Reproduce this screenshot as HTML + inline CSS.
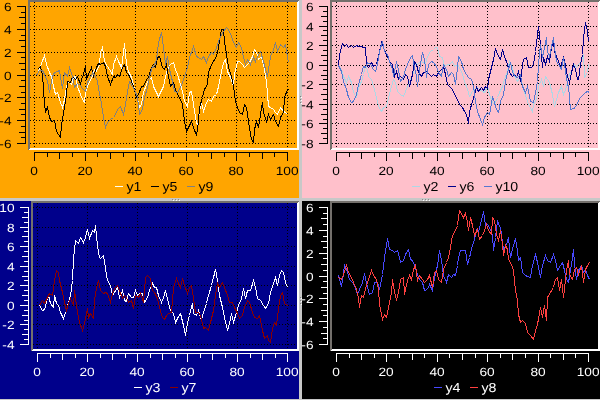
<!DOCTYPE html>
<html><head><meta charset="utf-8"><title>plots</title>
<style>
html,body{margin:0;padding:0;background:#c8c8c8;overflow:hidden}
svg{display:block;will-change:transform;transform:translateZ(0);font-family:"Liberation Sans", sans-serif;font-size:12px}
</style></head><body>
<svg width="600" height="400" viewBox="0 0 600 400" shape-rendering="crispEdges" text-rendering="geometricPrecision">
<rect x="0" y="0" width="600" height="400" fill="#c8c8c8"/>
<rect x="0" y="0" width="299" height="198" fill="#ffa500"/>
<rect x="28" y="0" width="271" height="2" fill="#74706c"/>
<rect x="28" y="0" width="2" height="150" fill="#74706c"/>
<path d="M28,150 L30,148 L297,148 L297,2 L299,0 L299,150 Z" fill="#ffffff"/>
<path d="M34.5,2 V148 M85.5,2 V148 M135.5,2 V148 M186.5,2 V148 M236.5,2 V148 M287.5,2 V148 M30,6.5 H297 M30,29.5 H297 M30,52.5 H297 M30,75.5 H297 M30,97.5 H297 M30,120.5 H297 M30,143.5 H297" stroke="#000" stroke-width="1" stroke-dasharray="1 2" fill="none"/>
<polyline points="38.5,71.5 44.5,55.5 46.5,64.5 49.5,72.5 51.5,76.5 53.5,86.5 55.5,94.5 57.5,92.5 60.5,102.5 62.5,107.5 64.5,99.5 66.5,86.5 68.5,81.5 71.5,84.5 73.5,77.5 75.5,76.5 77.5,86.5 80.5,94.5 81.5,97.5 84.5,102.5 85.5,92.5 87.5,86.5 90.5,79.5 92.5,76.5 94.5,69.5 96.5,71.5 99.5,64.5 100.5,52.5 102.5,47.5 104.5,61.5 107.5,66.5 109.5,69.5 112.5,74.5 113.5,64.5 116.5,56.5 118.5,61.5 121.5,67.5 123.5,52.5 124.5,43.5 126.5,64.5 128.5,71.5 131.5,77.5 133.5,84.5 135.5,94.5 137.5,99.5 139.5,107.5 141.5,104.5 143.5,92.5 146.5,84.5 148.5,79.5 151.5,77.5 153.5,86.5 156.5,92.5 158.5,96.5 160.5,92.5 163.5,86.5 165.5,76.5 167.5,69.5 170.5,64.5 173.5,62.5 175.5,69.5 177.5,74.5 180.5,84.5 182.5,91.5 184.5,101.5 187.5,106.5 189.5,92.5 191.5,91.5 193.5,104.5 195.5,117.5 197.5,126.5 199.5,111.5 201.5,102.5 203.5,111.5 206.5,102.5 208.5,99.5 211.5,101.5 213.5,96.5 216.5,94.5 218.5,86.5 221.5,71.5 223.5,62.5 225.5,59.5 227.5,71.5 230.5,77.5 233.5,86.5 234.5,74.5 237.5,61.5 239.5,61.5 242.5,64.5 244.5,67.5 247.5,64.5 249.5,62.5 252.5,56.5 254.5,49.5 256.5,52.5 258.5,59.5 261.5,56.5 263.5,64.5 266.5,81.5 268.5,106.5 270.5,107.5 273.5,109.5 275.5,112.5 277.5,114.5 280.5,107.5 283.5,111.5 285.5,112.5 287.5,114.5" stroke="#fffff0" stroke-width="1" fill="none"/>
<polyline points="37.5,69.5 40.5,66.5 42.5,74.5 44.5,104.5 45.5,111.5 47.5,107.5 49.5,117.5 51.5,121.5 54.5,120.5 56.5,131.5 58.5,134.5 60.5,137.5 61.5,124.5 64.5,107.5 66.5,94.5 67.5,81.5 70.5,82.5 72.5,76.5 75.5,79.5 77.5,76.5 80.5,84.5 81.5,79.5 83.5,74.5 85.5,66.5 86.5,79.5 88.5,74.5 91.5,67.5 93.5,76.5 96.5,67.5 98.5,63.5 100.5,64.5 103.5,62.5 105.5,66.5 107.5,76.5 110.5,84.5 113.5,76.5 115.5,77.5 117.5,74.5 119.5,76.5 122.5,67.5 124.5,64.5 126.5,72.5 128.5,74.5 131.5,81.5 133.5,86.5 136.5,97.5 138.5,94.5 141.5,86.5 143.5,86.5 146.5,79.5 148.5,77.5 151.5,67.5 153.5,64.5 155.5,67.5 157.5,57.5 159.5,56.5 162.5,67.5 164.5,69.5 166.5,64.5 168.5,76.5 170.5,86.5 173.5,82.5 175.5,89.5 177.5,94.5 180.5,99.5 182.5,104.5 184.5,121.5 186.5,131.5 188.5,127.5 191.5,121.5 193.5,127.5 196.5,135.5 198.5,121.5 199.5,107.5 202.5,97.5 204.5,89.5 207.5,84.5 208.5,72.5 211.5,64.5 213.5,61.5 216.5,56.5 218.5,47.5 221.5,29.5 223.5,29.5 224.5,41.5 226.5,54.5 228.5,67.5 231.5,76.5 233.5,86.5 235.5,101.5 237.5,107.5 239.5,112.5 242.5,114.5 244.5,104.5 246.5,107.5 248.5,121.5 251.5,139.5 253.5,142.5 254.5,129.5 256.5,121.5 258.5,127.5 260.5,114.5 262.5,102.5 263.5,112.5 266.5,121.5 268.5,114.5 270.5,119.5 273.5,114.5 275.5,121.5 278.5,126.5 280.5,117.5 283.5,112.5 284.5,97.5 287.5,89.5 288.5,89.5" stroke="#000000" stroke-width="1" fill="none"/>
<polyline points="36.5,75.5 39.5,70.5 42.5,70.5 44.5,74.5 47.5,81.5 49.5,92.5 52.5,76.5 54.5,72.5 57.5,71.5 59.5,70.5 62.5,88.5 64.5,72.5 67.5,76.5 69.5,67.5 72.5,76.5 74.5,87.5 77.5,83.5 80.5,85.5 82.5,88.5 85.5,91.5 87.5,82.5 90.5,77.5 92.5,72.5 95.5,76.5 97.5,81.5 99.5,94.5 100.5,97.5 103.5,117.5 105.5,127.5 107.5,122.5 110.5,119.5 113.5,117.5 115.5,114.5 117.5,109.5 120.5,106.5 123.5,114.5 125.5,104.5 127.5,91.5 129.5,81.5 132.5,86.5 134.5,89.5 137.5,97.5 139.5,114.5 142.5,109.5 144.5,97.5 147.5,87.5 149.5,76.5 152.5,66.5 153.5,67.5 156.5,59.5 158.5,42.5 161.5,32.5 163.5,47.5 165.5,64.5 167.5,56.5 169.5,69.5 172.5,81.5 174.5,91.5 177.5,92.5 179.5,89.5 182.5,82.5 184.5,76.5 187.5,67.5 189.5,57.5 192.5,49.5 193.5,46.5 196.5,56.5 198.5,57.5 201.5,59.5 203.5,56.5 206.5,62.5 208.5,56.5 211.5,52.5 213.5,54.5 216.5,47.5 218.5,41.5 221.5,34.5 223.5,31.5 226.5,27.5 228.5,29.5 231.5,36.5 233.5,42.5 236.5,47.5 238.5,42.5 241.5,47.5 243.5,57.5 245.5,64.5 247.5,59.5 250.5,64.5 253.5,57.5 255.5,61.5 257.5,56.5 260.5,51.5 263.5,61.5 265.5,69.5 267.5,76.5 270.5,56.5 273.5,49.5 275.5,42.5 277.5,51.5 280.5,44.5 283.5,47.5 285.5,44.5 287.5,57.5 288.5,62.5" stroke="#808080" stroke-width="1" fill="none"/>
<path d="M25.5,6 V144 M17,6.5 H26 M21,12.5 H26 M19,17.5 H26 M21,23.5 H26 M17,29.5 H26 M21,35.5 H26 M19,40.5 H26 M21,46.5 H26 M17,52.5 H26 M21,57.5 H26 M19,63.5 H26 M21,69.5 H26 M17,75.5 H26 M21,80.5 H26 M19,86.5 H26 M21,92.5 H26 M17,97.5 H26 M21,103.5 H26 M19,109.5 H26 M21,114.5 H26 M17,120.5 H26 M21,126.5 H26 M19,132.5 H26 M21,137.5 H26 M17,143.5 H26 M34,152.5 H288 M34.5,152 V161 M47.5,152 V157 M59.5,152 V159 M72.5,152 V157 M85.5,152 V161 M97.5,152 V157 M110.5,152 V159 M123.5,152 V157 M135.5,152 V161 M148.5,152 V157 M161.5,152 V159 M173.5,152 V157 M186.5,152 V161 M198.5,152 V157 M211.5,152 V159 M224.5,152 V157 M236.5,152 V161 M249.5,152 V157 M262.5,152 V159 M274.5,152 V157 M287.5,152 V161" stroke="#000" stroke-width="1" fill="none"/>
<text transform="translate(11.5,10.5) scale(1.14,1)" text-anchor="end" fill="#000">6</text>
<text transform="translate(11.5,33.5) scale(1.14,1)" text-anchor="end" fill="#000">4</text>
<text transform="translate(11.5,56.5) scale(1.14,1)" text-anchor="end" fill="#000">2</text>
<text transform="translate(11.5,79.5) scale(1.14,1)" text-anchor="end" fill="#000">0</text>
<text transform="translate(11.5,101.5) scale(1.14,1)" text-anchor="end" fill="#000">-2</text>
<text transform="translate(11.5,124.5) scale(1.14,1)" text-anchor="end" fill="#000">-4</text>
<text transform="translate(11.5,147.5) scale(1.14,1)" text-anchor="end" fill="#000">-6</text>
<text transform="translate(34.1,174.8) scale(1.14,1)" text-anchor="middle" fill="#000">0</text>
<text transform="translate(85.1,174.8) scale(1.14,1)" text-anchor="middle" fill="#000">20</text>
<text transform="translate(135.1,174.8) scale(1.14,1)" text-anchor="middle" fill="#000">40</text>
<text transform="translate(186.1,174.8) scale(1.14,1)" text-anchor="middle" fill="#000">60</text>
<text transform="translate(236.1,174.8) scale(1.14,1)" text-anchor="middle" fill="#000">80</text>
<text transform="translate(287.1,174.8) scale(1.14,1)" text-anchor="middle" fill="#000">100</text>
<rect x="115" y="186" width="8" height="1" fill="#fffff0"/>
<text transform="translate(126.4,191) scale(1.09,1)" text-anchor="start" font-size="13" fill="#000">y1</text>
<rect x="151" y="186" width="8" height="1" fill="#000000"/>
<text transform="translate(162.4,191) scale(1.09,1)" text-anchor="start" font-size="13" fill="#000">y5</text>
<rect x="187" y="186" width="8" height="1" fill="#808080"/>
<text transform="translate(198.4,191) scale(1.09,1)" text-anchor="start" font-size="13" fill="#000">y9</text>
<rect x="302" y="0" width="298" height="198" fill="#ffc0cb"/>
<rect x="330" y="0" width="270" height="2" fill="#74706c"/>
<rect x="330" y="0" width="2" height="150" fill="#74706c"/>
<path d="M330,150 L332,148 L598,148 L598,2 L600,0 L600,150 Z" fill="#ffffff"/>
<path d="M336.5,2 V148 M386.5,2 V148 M437.5,2 V148 M487.5,2 V148 M538.5,2 V148 M588.5,2 V148 M332,6.5 H598 M332,26.5 H598 M332,45.5 H598 M332,65.5 H598 M332,84.5 H598 M332,104.5 H598 M332,123.5 H598 M332,143.5 H598" stroke="#000" stroke-width="1" stroke-dasharray="1 2" fill="none"/>
<polyline points="338.5,65.5 341.5,69.5 343.5,76.5 346.5,82.5 348.5,76.5 351.5,82.5 353.5,92.5 356.5,97.5 358.5,87.5 361.5,81.5 363.5,74.5 365.5,66.5 367.5,69.5 368.5,76.5 371.5,79.5 373.5,86.5 376.5,97.5 378.5,106.5 381.5,111.5 383.5,107.5 386.5,106.5 388.5,97.5 391.5,86.5 393.5,79.5 395.5,82.5 397.5,91.5 400.5,94.5 403.5,96.5 405.5,91.5 407.5,86.5 410.5,79.5 413.5,72.5 415.5,62.5 417.5,64.5 420.5,61.5 423.5,62.5 425.5,64.5 427.5,56.5 430.5,51.5 433.5,49.5 435.5,47.5 437.5,47.5 439.5,56.5 442.5,57.5 444.5,66.5 447.5,64.5 449.5,64.5 452.5,61.5 454.5,66.5 457.5,64.5 459.5,67.5 462.5,74.5 464.5,81.5 467.5,89.5 469.5,96.5 472.5,91.5 474.5,89.5 477.5,87.5 479.5,89.5 482.5,91.5 484.5,92.5 487.5,86.5 489.5,94.5 492.5,102.5 494.5,104.5 497.5,97.5 499.5,92.5 502.5,86.5 504.5,79.5 507.5,71.5 509.5,61.5 512.5,67.5 514.5,76.5 517.5,81.5 519.5,77.5 522.5,84.5 524.5,92.5 527.5,101.5 529.5,106.5 532.5,111.5 533.5,104.5 536.5,99.5 538.5,86.5 541.5,79.5 543.5,86.5 545.5,76.5 547.5,79.5 549.5,82.5 552.5,94.5 554.5,106.5 556.5,99.5 558.5,92.5 561.5,86.5 563.5,94.5 565.5,89.5 567.5,82.5 569.5,74.5 572.5,69.5 574.5,64.5 576.5,67.5 578.5,64.5 580.5,62.5 583.5,54.5 584.5,77.5 587.5,72.5 588.5,64.5" stroke="#add8e6" stroke-width="1" fill="none"/>
<polyline points="338.5,65.5 339.5,54.5 342.5,43.5 344.5,46.5 346.5,44.5 348.5,47.5 351.5,45.5 353.5,47.5 356.5,45.5 358.5,46.5 361.5,46.5 363.5,47.5 365.5,47.5 366.5,64.5 368.5,67.5 371.5,62.5 373.5,66.5 376.5,64.5 378.5,56.5 381.5,42.5 383.5,47.5 385.5,52.5 387.5,56.5 389.5,61.5 392.5,64.5 394.5,76.5 396.5,71.5 398.5,79.5 400.5,76.5 403.5,79.5 405.5,74.5 407.5,76.5 409.5,86.5 412.5,74.5 414.5,61.5 416.5,64.5 418.5,72.5 421.5,76.5 423.5,72.5 426.5,71.5 428.5,73.5 431.5,76.5 433.5,74.5 436.5,76.5 438.5,72.5 441.5,69.5 443.5,66.5 445.5,74.5 447.5,84.5 449.5,86.5 452.5,89.5 454.5,94.5 457.5,99.5 459.5,104.5 462.5,107.5 464.5,111.5 466.5,114.5 468.5,123.5 469.5,111.5 472.5,101.5 474.5,94.5 476.5,87.5 478.5,91.5 481.5,87.5 483.5,90.5 485.5,86.5 487.5,88.5 488.5,79.5 490.5,71.5 493.5,59.5 495.5,48.5 497.5,54.5 500.5,59.5 502.5,49.5 504.5,56.5 507.5,64.5 509.5,72.5 512.5,76.5 514.5,74.5 516.5,77.5 518.5,71.5 520.5,81.5 522.5,64.5 523.5,59.5 526.5,57.5 528.5,67.5 531.5,67.5 533.5,64.5 535.5,51.5 537.5,34.5 538.5,26.5 540.5,44.5 542.5,67.5 543.5,57.5 545.5,64.5 547.5,56.5 549.5,61.5 551.5,47.5 553.5,42.5 554.5,51.5 556.5,56.5 558.5,61.5 560.5,67.5 563.5,57.5 565.5,64.5 567.5,76.5 569.5,82.5 571.5,72.5 573.5,64.5 575.5,69.5 577.5,79.5 578.5,79.5 580.5,64.5 582.5,54.5 583.5,37.5 585.5,22.5 587.5,31.5 588.5,41.5" stroke="#00008b" stroke-width="1" fill="none"/>
<polyline points="338.5,65.5 341.5,71.5 343.5,81.5 346.5,89.5 348.5,97.5 351.5,102.5 353.5,101.5 356.5,94.5 358.5,84.5 361.5,74.5 363.5,66.5 365.5,67.5 367.5,62.5 370.5,64.5 373.5,69.5 375.5,71.5 377.5,64.5 379.5,51.5 382.5,41.5 384.5,51.5 387.5,54.5 389.5,61.5 392.5,69.5 393.5,76.5 396.5,61.5 398.5,69.5 400.5,81.5 403.5,76.5 405.5,69.5 407.5,64.5 410.5,57.5 412.5,55.5 414.5,67.5 416.5,76.5 417.5,86.5 419.5,69.5 422.5,52.5 424.5,59.5 426.5,77.5 428.5,64.5 431.5,61.5 433.5,62.5 436.5,66.5 438.5,72.5 441.5,76.5 443.5,64.5 446.5,69.5 448.5,76.5 451.5,72.5 453.5,74.5 455.5,84.5 457.5,67.5 458.5,56.5 461.5,61.5 463.5,69.5 466.5,74.5 468.5,77.5 471.5,79.5 473.5,86.5 475.5,101.5 477.5,111.5 480.5,119.5 482.5,124.5 484.5,117.5 487.5,112.5 489.5,114.5 492.5,97.5 493.5,99.5 496.5,109.5 498.5,112.5 500.5,101.5 503.5,94.5 505.5,81.5 507.5,72.5 510.5,62.5 512.5,72.5 515.5,76.5 517.5,77.5 520.5,74.5 522.5,86.5 525.5,92.5 527.5,86.5 530.5,101.5 533.5,102.5 535.5,92.5 537.5,81.5 538.5,64.5 540.5,44.5 542.5,57.5 544.5,47.5 546.5,37.5 547.5,51.5 549.5,56.5 551.5,46.5 553.5,37.5 554.5,47.5 556.5,61.5 558.5,64.5 561.5,69.5 563.5,57.5 565.5,71.5 567.5,84.5 568.5,86.5 570.5,109.5 573.5,108.5 575.5,107.5 577.5,102.5 580.5,97.5 583.5,94.5 585.5,92.5 587.5,91.5 589.5,92.5" stroke="#5577d0" stroke-width="1" fill="none"/>
<path d="M327.5,6 V144 M319,6.5 H328 M323,11.5 H328 M321,16.5 H328 M323,21.5 H328 M319,26.5 H328 M323,30.5 H328 M321,35.5 H328 M323,40.5 H328 M319,45.5 H328 M323,50.5 H328 M321,55.5 H328 M323,60.5 H328 M319,65.5 H328 M323,70.5 H328 M321,75.5 H328 M323,79.5 H328 M319,84.5 H328 M323,89.5 H328 M321,94.5 H328 M323,99.5 H328 M319,104.5 H328 M323,109.5 H328 M321,114.5 H328 M323,119.5 H328 M319,123.5 H328 M323,128.5 H328 M321,133.5 H328 M323,138.5 H328 M319,143.5 H328 M336,152.5 H589 M336.5,152 V161 M349.5,152 V157 M361.5,152 V159 M374.5,152 V157 M386.5,152 V161 M399.5,152 V157 M412.5,152 V159 M424.5,152 V157 M437.5,152 V161 M449.5,152 V157 M462.5,152 V159 M475.5,152 V157 M487.5,152 V161 M500.5,152 V157 M512.5,152 V159 M525.5,152 V157 M538.5,152 V161 M550.5,152 V157 M563.5,152 V159 M575.5,152 V157 M588.5,152 V161" stroke="#000" stroke-width="1" fill="none"/>
<text transform="translate(313.5,10.5) scale(1.14,1)" text-anchor="end" fill="#000">6</text>
<text transform="translate(313.5,30.5) scale(1.14,1)" text-anchor="end" fill="#000">4</text>
<text transform="translate(313.5,49.5) scale(1.14,1)" text-anchor="end" fill="#000">2</text>
<text transform="translate(313.5,69.5) scale(1.14,1)" text-anchor="end" fill="#000">0</text>
<text transform="translate(313.5,88.5) scale(1.14,1)" text-anchor="end" fill="#000">-2</text>
<text transform="translate(313.5,108.5) scale(1.14,1)" text-anchor="end" fill="#000">-4</text>
<text transform="translate(313.5,127.5) scale(1.14,1)" text-anchor="end" fill="#000">-6</text>
<text transform="translate(313.5,147.5) scale(1.14,1)" text-anchor="end" fill="#000">-8</text>
<text transform="translate(336.1,174.8) scale(1.14,1)" text-anchor="middle" fill="#000">0</text>
<text transform="translate(386.1,174.8) scale(1.14,1)" text-anchor="middle" fill="#000">20</text>
<text transform="translate(437.1,174.8) scale(1.14,1)" text-anchor="middle" fill="#000">40</text>
<text transform="translate(487.1,174.8) scale(1.14,1)" text-anchor="middle" fill="#000">60</text>
<text transform="translate(538.1,174.8) scale(1.14,1)" text-anchor="middle" fill="#000">80</text>
<text transform="translate(588.1,174.8) scale(1.14,1)" text-anchor="middle" fill="#000">100</text>
<rect x="412" y="186" width="8" height="1" fill="#add8e6"/>
<text transform="translate(423.4,191) scale(1.09,1)" text-anchor="start" font-size="13" fill="#000">y2</text>
<rect x="448" y="186" width="8" height="1" fill="#00008b"/>
<text transform="translate(459.4,191) scale(1.09,1)" text-anchor="start" font-size="13" fill="#000">y6</text>
<rect x="484" y="186" width="8" height="1" fill="#5577d0"/>
<text transform="translate(495.4,191) scale(1.09,1)" text-anchor="start" font-size="13" fill="#000">y10</text>
<rect x="0" y="201" width="299" height="198" fill="#00008b"/>
<rect x="31" y="201" width="268" height="2" fill="#74706c"/>
<rect x="31" y="201" width="2" height="150" fill="#74706c"/>
<path d="M31,351 L33,349 L297,349 L297,203 L299,201 L299,351 Z" fill="#ffffff"/>
<path d="M37.5,203 V349 M87.5,203 V349 M137.5,203 V349 M187.5,203 V349 M237.5,203 V349 M287.5,203 V349 M33,207.5 H297 M33,227.5 H297 M33,246.5 H297 M33,266.5 H297 M33,285.5 H297 M33,305.5 H297 M33,324.5 H297 M33,344.5 H297" stroke="#000" stroke-width="1" stroke-dasharray="1 2" fill="none"/>
<polyline points="39.5,305.5 42.5,310.5 44.5,309.5 47.5,298.5 48.5,295.5 50.5,303.5 53.5,307.5 54.5,295.5 56.5,303.5 58.5,305.5 60.5,312.5 63.5,318.5 64.5,315.5 66.5,310.5 68.5,302.5 70.5,295.5 72.5,280.5 73.5,258.5 75.5,240.5 78.5,243.5 80.5,237.5 83.5,242.5 85.5,237.5 87.5,229.5 89.5,238.5 92.5,230.5 94.5,232.5 95.5,225.5 97.5,245.5 99.5,257.5 100.5,258.5 103.5,255.5 105.5,268.5 107.5,280.5 110.5,285.5 112.5,295.5 114.5,292.5 117.5,287.5 119.5,297.5 122.5,290.5 124.5,300.5 126.5,301.5 128.5,293.5 131.5,297.5 133.5,297.5 135.5,290.5 137.5,295.5 139.5,293.5 142.5,293.5 144.5,302.5 147.5,297.5 149.5,290.5 152.5,283.5 154.5,287.5 156.5,287.5 158.5,295.5 161.5,302.5 163.5,297.5 165.5,290.5 168.5,303.5 170.5,310.5 173.5,313.5 175.5,322.5 177.5,318.5 180.5,313.5 183.5,325.5 185.5,335.5 187.5,322.5 189.5,315.5 192.5,303.5 193.5,313.5 196.5,315.5 198.5,310.5 201.5,320.5 203.5,312.5 206.5,303.5 208.5,295.5 211.5,285.5 213.5,277.5 215.5,269.5 217.5,280.5 219.5,295.5 222.5,307.5 224.5,317.5 227.5,330.5 229.5,323.5 231.5,313.5 233.5,322.5 236.5,312.5 238.5,305.5 241.5,298.5 243.5,288.5 245.5,298.5 247.5,290.5 250.5,290.5 253.5,280.5 255.5,287.5 257.5,298.5 260.5,300.5 263.5,305.5 265.5,308.5 268.5,303.5 270.5,292.5 273.5,283.5 275.5,277.5 277.5,285.5 279.5,275.5 281.5,270.5 283.5,272.5 285.5,282.5 287.5,287.5" stroke="#ffffff" stroke-width="1" fill="none"/>
<polyline points="39.5,305.5 42.5,300.5 44.5,303.5 47.5,297.5 49.5,293.5 52.5,295.5 54.5,280.5 56.5,270.5 58.5,272.5 59.5,280.5 62.5,292.5 64.5,302.5 66.5,310.5 68.5,303.5 70.5,298.5 73.5,305.5 74.5,290.5 77.5,312.5 79.5,322.5 82.5,330.5 84.5,323.5 87.5,308.5 88.5,317.5 90.5,313.5 93.5,318.5 94.5,300.5 96.5,287.5 98.5,280.5 100.5,290.5 103.5,293.5 105.5,292.5 107.5,293.5 110.5,302.5 112.5,293.5 114.5,288.5 117.5,285.5 119.5,290.5 122.5,298.5 124.5,295.5 126.5,297.5 128.5,302.5 131.5,300.5 133.5,308.5 135.5,295.5 138.5,297.5 140.5,293.5 143.5,302.5 145.5,277.5 147.5,275.5 150.5,278.5 152.5,290.5 154.5,292.5 157.5,298.5 159.5,307.5 162.5,317.5 164.5,319.5 166.5,315.5 168.5,313.5 171.5,312.5 173.5,287.5 176.5,278.5 178.5,283.5 180.5,287.5 182.5,278.5 184.5,285.5 187.5,293.5 189.5,287.5 191.5,285.5 193.5,298.5 195.5,312.5 198.5,312.5 200.5,315.5 203.5,328.5 205.5,327.5 208.5,330.5 210.5,322.5 213.5,310.5 215.5,295.5 217.5,283.5 219.5,287.5 222.5,282.5 224.5,287.5 227.5,295.5 229.5,302.5 232.5,302.5 234.5,307.5 237.5,313.5 239.5,318.5 242.5,315.5 244.5,307.5 247.5,300.5 249.5,302.5 252.5,312.5 254.5,317.5 257.5,318.5 259.5,315.5 262.5,330.5 264.5,338.5 267.5,335.5 268.5,340.5 270.5,342.5 272.5,328.5 274.5,322.5 276.5,325.5 278.5,308.5 280.5,295.5 282.5,292.5 284.5,303.5 287.5,305.5 288.5,306.5" stroke="#8b0000" stroke-width="1" fill="none"/>
<path d="M28.5,207 V345 M20,207.5 H29 M24,212.5 H29 M22,217.5 H29 M24,222.5 H29 M20,227.5 H29 M24,231.5 H29 M22,236.5 H29 M24,241.5 H29 M20,246.5 H29 M24,251.5 H29 M22,256.5 H29 M24,261.5 H29 M20,266.5 H29 M24,271.5 H29 M22,276.5 H29 M24,280.5 H29 M20,285.5 H29 M24,290.5 H29 M22,295.5 H29 M24,300.5 H29 M20,305.5 H29 M24,310.5 H29 M22,315.5 H29 M24,320.5 H29 M20,324.5 H29 M24,329.5 H29 M22,334.5 H29 M24,339.5 H29 M20,344.5 H29 M37,353.5 H288 M37.5,353 V362 M50.5,353 V358 M62.5,353 V360 M75.5,353 V358 M87.5,353 V362 M100.5,353 V358 M112.5,353 V360 M125.5,353 V358 M137.5,353 V362 M150.5,353 V358 M162.5,353 V360 M175.5,353 V358 M187.5,353 V362 M200.5,353 V358 M212.5,353 V360 M225.5,353 V358 M237.5,353 V362 M250.5,353 V358 M262.5,353 V360 M275.5,353 V358 M287.5,353 V362" stroke="#fff" stroke-width="1" fill="none"/>
<text transform="translate(14.5,211.5) scale(1.14,1)" text-anchor="end" fill="#fff">10</text>
<text transform="translate(14.5,231.5) scale(1.14,1)" text-anchor="end" fill="#fff">8</text>
<text transform="translate(14.5,250.5) scale(1.14,1)" text-anchor="end" fill="#fff">6</text>
<text transform="translate(14.5,270.5) scale(1.14,1)" text-anchor="end" fill="#fff">4</text>
<text transform="translate(14.5,289.5) scale(1.14,1)" text-anchor="end" fill="#fff">2</text>
<text transform="translate(14.5,309.5) scale(1.14,1)" text-anchor="end" fill="#fff">0</text>
<text transform="translate(14.5,328.5) scale(1.14,1)" text-anchor="end" fill="#fff">-2</text>
<text transform="translate(14.5,348.5) scale(1.14,1)" text-anchor="end" fill="#fff">-4</text>
<text transform="translate(37.1,375.8) scale(1.14,1)" text-anchor="middle" fill="#fff">0</text>
<text transform="translate(87.1,375.8) scale(1.14,1)" text-anchor="middle" fill="#fff">20</text>
<text transform="translate(137.1,375.8) scale(1.14,1)" text-anchor="middle" fill="#fff">40</text>
<text transform="translate(187.1,375.8) scale(1.14,1)" text-anchor="middle" fill="#fff">60</text>
<text transform="translate(237.1,375.8) scale(1.14,1)" text-anchor="middle" fill="#fff">80</text>
<text transform="translate(287.1,375.8) scale(1.14,1)" text-anchor="middle" fill="#fff">100</text>
<rect x="134" y="387" width="8" height="1" fill="#ffffff"/>
<text transform="translate(145.4,392) scale(1.09,1)" text-anchor="start" font-size="13" fill="#fff">y3</text>
<rect x="170" y="387" width="8" height="1" fill="#8b0000"/>
<text transform="translate(181.4,392) scale(1.09,1)" text-anchor="start" font-size="13" fill="#fff">y7</text>
<rect x="302" y="201" width="298" height="198" fill="#000000"/>
<rect x="330" y="201" width="270" height="2" fill="#74706c"/>
<rect x="330" y="201" width="2" height="150" fill="#74706c"/>
<path d="M330,351 L332,349 L598,349 L598,203 L600,201 L600,351 Z" fill="#ffffff"/>
<path d="M336.5,203 V349 M386.5,203 V349 M437.5,203 V349 M487.5,203 V349 M538.5,203 V349 M588.5,203 V349 M332,207.5 H598 M332,230.5 H598 M332,253.5 H598 M332,276.5 H598 M332,298.5 H598 M332,321.5 H598 M332,344.5 H598" stroke="#000" stroke-width="1" stroke-dasharray="1 2" fill="none"/>
<polyline points="338.5,275.5 341.5,286.5 343.5,274.5 344.5,264.5 347.5,272.5 349.5,279.5 352.5,282.5 354.5,285.5 357.5,294.5 359.5,289.5 362.5,282.5 364.5,273.5 367.5,287.5 369.5,294.5 372.5,292.5 374.5,282.5 377.5,282.5 379.5,289.5 382.5,274.5 384.5,257.5 387.5,238.5 389.5,249.5 392.5,250.5 394.5,252.5 397.5,250.5 399.5,257.5 400.5,262.5 403.5,260.5 405.5,254.5 408.5,249.5 410.5,259.5 412.5,260.5 415.5,267.5 417.5,275.5 420.5,280.5 422.5,282.5 424.5,290.5 427.5,289.5 429.5,284.5 432.5,290.5 434.5,277.5 437.5,265.5 439.5,250.5 441.5,260.5 443.5,275.5 446.5,282.5 448.5,274.5 451.5,277.5 453.5,274.5 455.5,275.5 457.5,265.5 458.5,257.5 460.5,250.5 462.5,250.5 465.5,250.5 467.5,264.5 469.5,257.5 472.5,245.5 474.5,239.5 476.5,229.5 478.5,232.5 481.5,220.5 483.5,211.5 485.5,225.5 487.5,224.5 490.5,229.5 492.5,235.5 493.5,250.5 495.5,237.5 497.5,220.5 498.5,224.5 500.5,227.5 502.5,242.5 503.5,249.5 506.5,245.5 508.5,237.5 510.5,257.5 513.5,245.5 515.5,238.5 517.5,250.5 518.5,260.5 520.5,257.5 522.5,272.5 525.5,275.5 527.5,276.5 530.5,277.5 532.5,265.5 535.5,254.5 537.5,262.5 540.5,277.5 542.5,265.5 545.5,255.5 547.5,260.5 550.5,262.5 553.5,254.5 555.5,260.5 557.5,270.5 560.5,265.5 562.5,262.5 564.5,270.5 566.5,279.5 568.5,282.5 571.5,264.5 573.5,249.5 574.5,264.5 576.5,279.5 578.5,270.5 581.5,265.5 583.5,272.5 585.5,269.5 587.5,275.5 589.5,279.5" stroke="#4848ff" stroke-width="1" fill="none"/>
<polyline points="338.5,277.5 341.5,279.5 343.5,274.5 346.5,265.5 348.5,272.5 351.5,277.5 353.5,282.5 356.5,289.5 358.5,297.5 359.5,307.5 361.5,295.5 363.5,297.5 366.5,285.5 368.5,279.5 371.5,270.5 373.5,275.5 376.5,279.5 378.5,289.5 379.5,304.5 382.5,319.5 384.5,314.5 386.5,317.5 388.5,307.5 391.5,292.5 392.5,279.5 394.5,292.5 396.5,299.5 398.5,292.5 400.5,279.5 403.5,277.5 404.5,294.5 407.5,280.5 409.5,275.5 411.5,279.5 413.5,269.5 415.5,265.5 417.5,280.5 419.5,275.5 422.5,279.5 424.5,282.5 427.5,279.5 429.5,275.5 432.5,287.5 434.5,272.5 436.5,270.5 438.5,279.5 441.5,282.5 443.5,269.5 446.5,262.5 448.5,257.5 450.5,247.5 452.5,235.5 454.5,232.5 457.5,225.5 458.5,217.5 459.5,210.5 462.5,215.5 463.5,217.5 465.5,213.5 467.5,222.5 468.5,230.5 470.5,217.5 472.5,225.5 474.5,235.5 477.5,229.5 479.5,239.5 482.5,235.5 484.5,230.5 486.5,224.5 488.5,230.5 491.5,234.5 492.5,217.5 494.5,220.5 496.5,234.5 498.5,240.5 500.5,230.5 502.5,244.5 503.5,255.5 505.5,245.5 507.5,249.5 508.5,259.5 510.5,262.5 512.5,267.5 513.5,270.5 515.5,290.5 517.5,300.5 518.5,314.5 520.5,322.5 522.5,320.5 525.5,323.5 527.5,332.5 530.5,335.5 533.5,339.5 535.5,330.5 537.5,324.5 540.5,307.5 542.5,317.5 544.5,305.5 546.5,320.5 547.5,297.5 550.5,292.5 553.5,287.5 555.5,279.5 557.5,277.5 559.5,290.5 561.5,279.5 563.5,297.5 566.5,270.5 568.5,260.5 569.5,274.5 572.5,279.5 574.5,269.5 576.5,267.5 578.5,274.5 581.5,265.5 583.5,282.5 585.5,269.5 587.5,265.5 589.5,262.5" stroke="#ff4040" stroke-width="1" fill="none"/>
<path d="M327.5,207 V345 M319,207.5 H328 M323,213.5 H328 M321,218.5 H328 M323,224.5 H328 M319,230.5 H328 M323,236.5 H328 M321,241.5 H328 M323,247.5 H328 M319,253.5 H328 M323,258.5 H328 M321,264.5 H328 M323,270.5 H328 M319,276.5 H328 M323,281.5 H328 M321,287.5 H328 M323,293.5 H328 M319,298.5 H328 M323,304.5 H328 M321,310.5 H328 M323,315.5 H328 M319,321.5 H328 M323,327.5 H328 M321,333.5 H328 M323,338.5 H328 M319,344.5 H328 M336,353.5 H589 M336.5,353 V362 M349.5,353 V358 M361.5,353 V360 M374.5,353 V358 M386.5,353 V362 M399.5,353 V358 M412.5,353 V360 M424.5,353 V358 M437.5,353 V362 M449.5,353 V358 M462.5,353 V360 M475.5,353 V358 M487.5,353 V362 M500.5,353 V358 M512.5,353 V360 M525.5,353 V358 M538.5,353 V362 M550.5,353 V358 M563.5,353 V360 M575.5,353 V358 M588.5,353 V362" stroke="#fff" stroke-width="1" fill="none"/>
<text transform="translate(313.5,211.5) scale(1.14,1)" text-anchor="end" fill="#fff">6</text>
<text transform="translate(313.5,234.5) scale(1.14,1)" text-anchor="end" fill="#fff">4</text>
<text transform="translate(313.5,257.5) scale(1.14,1)" text-anchor="end" fill="#fff">2</text>
<text transform="translate(313.5,280.5) scale(1.14,1)" text-anchor="end" fill="#fff">0</text>
<text transform="translate(313.5,302.5) scale(1.14,1)" text-anchor="end" fill="#fff">-2</text>
<text transform="translate(313.5,325.5) scale(1.14,1)" text-anchor="end" fill="#fff">-4</text>
<text transform="translate(313.5,348.5) scale(1.14,1)" text-anchor="end" fill="#fff">-6</text>
<text transform="translate(336.1,375.8) scale(1.14,1)" text-anchor="middle" fill="#fff">0</text>
<text transform="translate(386.1,375.8) scale(1.14,1)" text-anchor="middle" fill="#fff">20</text>
<text transform="translate(437.1,375.8) scale(1.14,1)" text-anchor="middle" fill="#fff">40</text>
<text transform="translate(487.1,375.8) scale(1.14,1)" text-anchor="middle" fill="#fff">60</text>
<text transform="translate(538.1,375.8) scale(1.14,1)" text-anchor="middle" fill="#fff">80</text>
<text transform="translate(588.1,375.8) scale(1.14,1)" text-anchor="middle" fill="#fff">100</text>
<rect x="434" y="387" width="8" height="1" fill="#4848ff"/>
<text transform="translate(445.4,392) scale(1.09,1)" text-anchor="start" font-size="13" fill="#fff">y4</text>
<rect x="470" y="387" width="8" height="1" fill="#ff4040"/>
<text transform="translate(481.4,392) scale(1.09,1)" text-anchor="start" font-size="13" fill="#fff">y8</text>
<rect x="172" y="199" width="1" height="1" fill="#8a8a8a"/>
<rect x="173" y="200" width="1" height="1" fill="#ffffff"/>
<rect x="175" y="199" width="1" height="1" fill="#8a8a8a"/>
<rect x="176" y="200" width="1" height="1" fill="#ffffff"/>
<rect x="178" y="199" width="1" height="1" fill="#8a8a8a"/>
<rect x="179" y="200" width="1" height="1" fill="#ffffff"/>
<rect x="422" y="199" width="1" height="1" fill="#8a8a8a"/>
<rect x="423" y="200" width="1" height="1" fill="#ffffff"/>
<rect x="425" y="199" width="1" height="1" fill="#8a8a8a"/>
<rect x="426" y="200" width="1" height="1" fill="#ffffff"/>
<rect x="428" y="199" width="1" height="1" fill="#8a8a8a"/>
<rect x="429" y="200" width="1" height="1" fill="#ffffff"/>
<rect x="300" y="96" width="1" height="1" fill="#808080"/>
<rect x="301" y="97" width="1" height="1" fill="#ffffff"/>
<rect x="300" y="99" width="1" height="1" fill="#808080"/>
<rect x="301" y="100" width="1" height="1" fill="#ffffff"/>
<rect x="300" y="102" width="1" height="1" fill="#808080"/>
<rect x="301" y="103" width="1" height="1" fill="#ffffff"/>
<rect x="300" y="297" width="1" height="1" fill="#808080"/>
<rect x="301" y="298" width="1" height="1" fill="#ffffff"/>
<rect x="300" y="300" width="1" height="1" fill="#808080"/>
<rect x="301" y="301" width="1" height="1" fill="#ffffff"/>
<rect x="300" y="303" width="1" height="1" fill="#808080"/>
<rect x="301" y="304" width="1" height="1" fill="#ffffff"/>
</svg>
</body></html>
